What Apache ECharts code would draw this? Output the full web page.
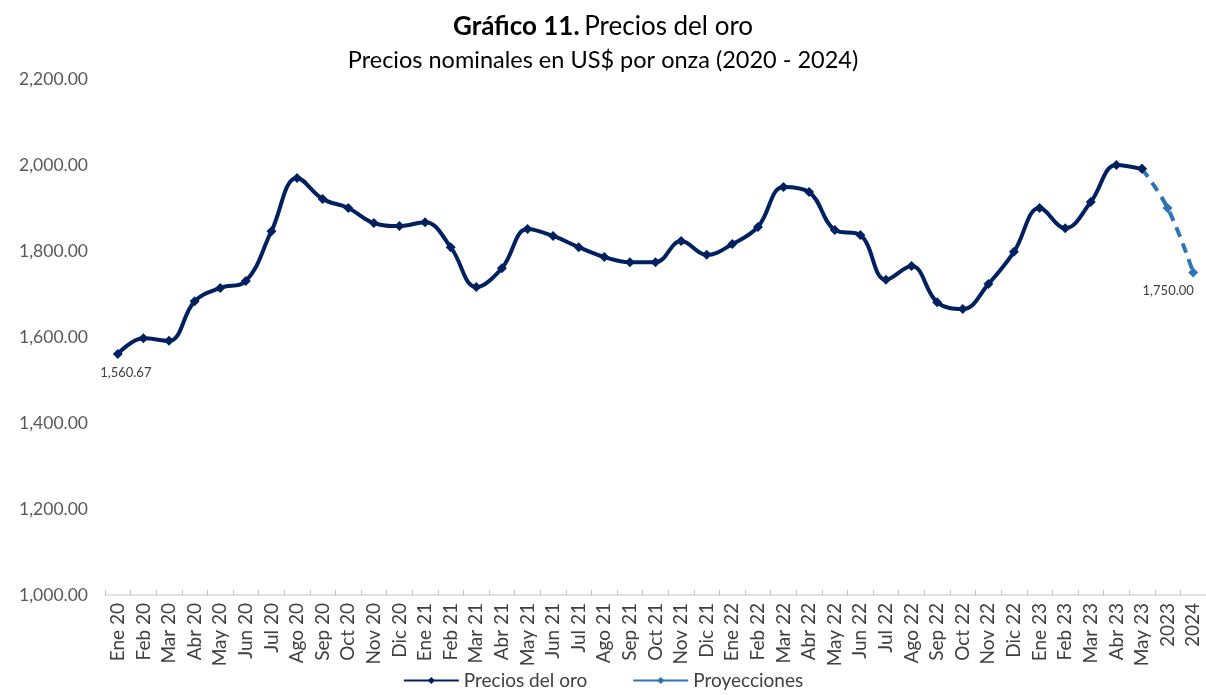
<!DOCTYPE html>
<html>
<head>
<meta charset="utf-8">
<script src="https://cdn.jsdelivr.net/npm/echarts@6/dist/echarts.min.js"></script>
<style>
  html, body { margin: 0; padding: 0; background: #fff; }
  #chart { width: 1206px; height: 695px; }
</style>
</head>
<body>
<div id="chart"></div>
<script>
// categorías del eje x
const categorias = [
  'Ene 20', 'Feb 20', 'Mar 20', 'Abr 20', 'May 20', 'Jun 20', 'Jul 20', 'Ago 20', 'Sep 20', 'Oct 20', 'Nov 20', 'Dic 20',
  'Ene 21', 'Feb 21', 'Mar 21', 'Abr 21', 'May 21', 'Jun 21', 'Jul 21', 'Ago 21', 'Sep 21', 'Oct 21', 'Nov 21', 'Dic 21',
  'Ene 22', 'Feb 22', 'Mar 22', 'Abr 22', 'May 22', 'Jun 22', 'Jul 22', 'Ago 22', 'Sep 22', 'Oct 22', 'Nov 22', 'Dic 22',
  'Ene 23', 'Feb 23', 'Mar 23', 'Abr 23', 'May 23', '2023', '2024'
];

// precios observados (US$ por onza)
const preciosOro = [
  1560.67, 1597, 1591, 1683, 1714, 1730, 1846, 1970, 1921, 1900, 1865, 1858,
  1867, 1809, 1716, 1760, 1851, 1835, 1809, 1786, 1774, 1774, 1823, 1791,
  1816, 1856, 1949, 1937, 1849, 1837, 1733, 1765, 1681, 1665, 1723, 1798,
  1900, 1853, 1914, 2000, 1991, null, null
];

// proyecciones
const proyecciones = [
  null, null, null, null, null, null, null, null, null, null, null, null,
  null, null, null, null, null, null, null, null, null, null, null, null,
  null, null, null, null, null, null, null, null, null, null, null, null,
  null, null, null, null, 1991, 1900, 1750
];

const yTicks = [1000, 1200, 1400, 1600, 1800, 2000, 2200];

const fmt = v => Number(v).toLocaleString('en-US', { minimumFractionDigits: 2, maximumFractionDigits: 2 });
const fuente = 'Lato, "Open Sans", sans-serif';

// etiqueta solo en el primer punto y en el último de las proyecciones
const datosOro = preciosOro.map((v, i) => i === 0
  ? { value: v, label: { show: true, position: 'bottom', offset: [8, 2], formatter: p => fmt(p.value) } }
  : v);
const datosProy = proyecciones.map((v, i) => i === proyecciones.length - 1
  ? { value: v, label: { show: true, position: 'bottom', offset: [-25, 2], formatter: p => fmt(p.value) } }
  : v);

const myChart = echarts.init(document.getElementById('chart'));
myChart.setOption({
  backgroundColor: '#fff',
  animation: false,
  textStyle: { fontFamily: fuente },
  title: {
    left: 'center',
    top: 6,
    text: '{b|Gráfico 11.} {n|Precios del oro}\n{s|Precios nominales en US$ por onza (2020 - 2024)}',
    textStyle: {
      fontWeight: 'normal',
      rich: {
        b: { fontFamily: fuente, fontWeight: 'bold', fontSize: 26, color: '#000', lineHeight: 32 },
        n: { fontFamily: fuente, fontWeight: 'normal', fontSize: 26, color: '#000', lineHeight: 32 },
        s: { fontFamily: fuente, fontWeight: 'normal', fontSize: 23.5, color: '#000', lineHeight: 34 }
      }
    }
  },
  legend: {
    bottom: 0,
    left: 'center',
    itemWidth: 55,
    itemHeight: 9,
    itemGap: 45,
    lineStyle: { type: 'solid' },
    textStyle: { fontFamily: fuente, fontSize: 19, color: '#404040' },
    data: ['Precios del oro', 'Proyecciones']
  },
  grid: { left: 105, right: 0, top: 79, bottom: 100, containLabel: false },
  xAxis: {
    type: 'category',
    data: categorias,
    boundaryGap: true,
    axisLine: { lineStyle: { color: '#d9d9d9', width: 1.5 } },
    axisTick: { show: true, inside: true, length: 5, lineStyle: { color: '#bfbfbf' } },
    axisLabel: { rotate: 90, interval: 0, fontSize: 19, color: '#404040', margin: 8, fontFamily: fuente }
  },
  yAxis: {
    type: 'value',
    min: yTicks[0],
    max: yTicks[yTicks.length - 1],
    interval: 200,
    splitLine: { show: false },
    axisLine: { show: false },
    axisTick: { show: false },
    axisLabel: { fontSize: 17.5, color: '#595959', margin: 17, fontFamily: fuente, formatter: fmt }
  },
  series: [
    {
      name: 'Precios del oro',
      type: 'line',
      data: datosOro,
      smooth: 0.4,
      symbol: 'diamond',
      symbolSize: 10,
      z: 3,
      itemStyle: { color: '#002060' },
      lineStyle: { color: '#002060', width: 4 },
      label: { fontSize: 13, color: '#404040', fontFamily: fuente }
    },
    {
      name: 'Proyecciones',
      type: 'line',
      data: datosProy,
      smooth: 0.4,
      symbol: 'diamond',
      symbolSize: 10,
      z: 2,
      itemStyle: { color: '#2e75b6' },
      lineStyle: { color: '#2e75b6', width: 4, type: [10, 7] },
      label: { fontSize: 13, color: '#404040', fontFamily: fuente }
    }
  ]
});
</script>
</body>
</html>
